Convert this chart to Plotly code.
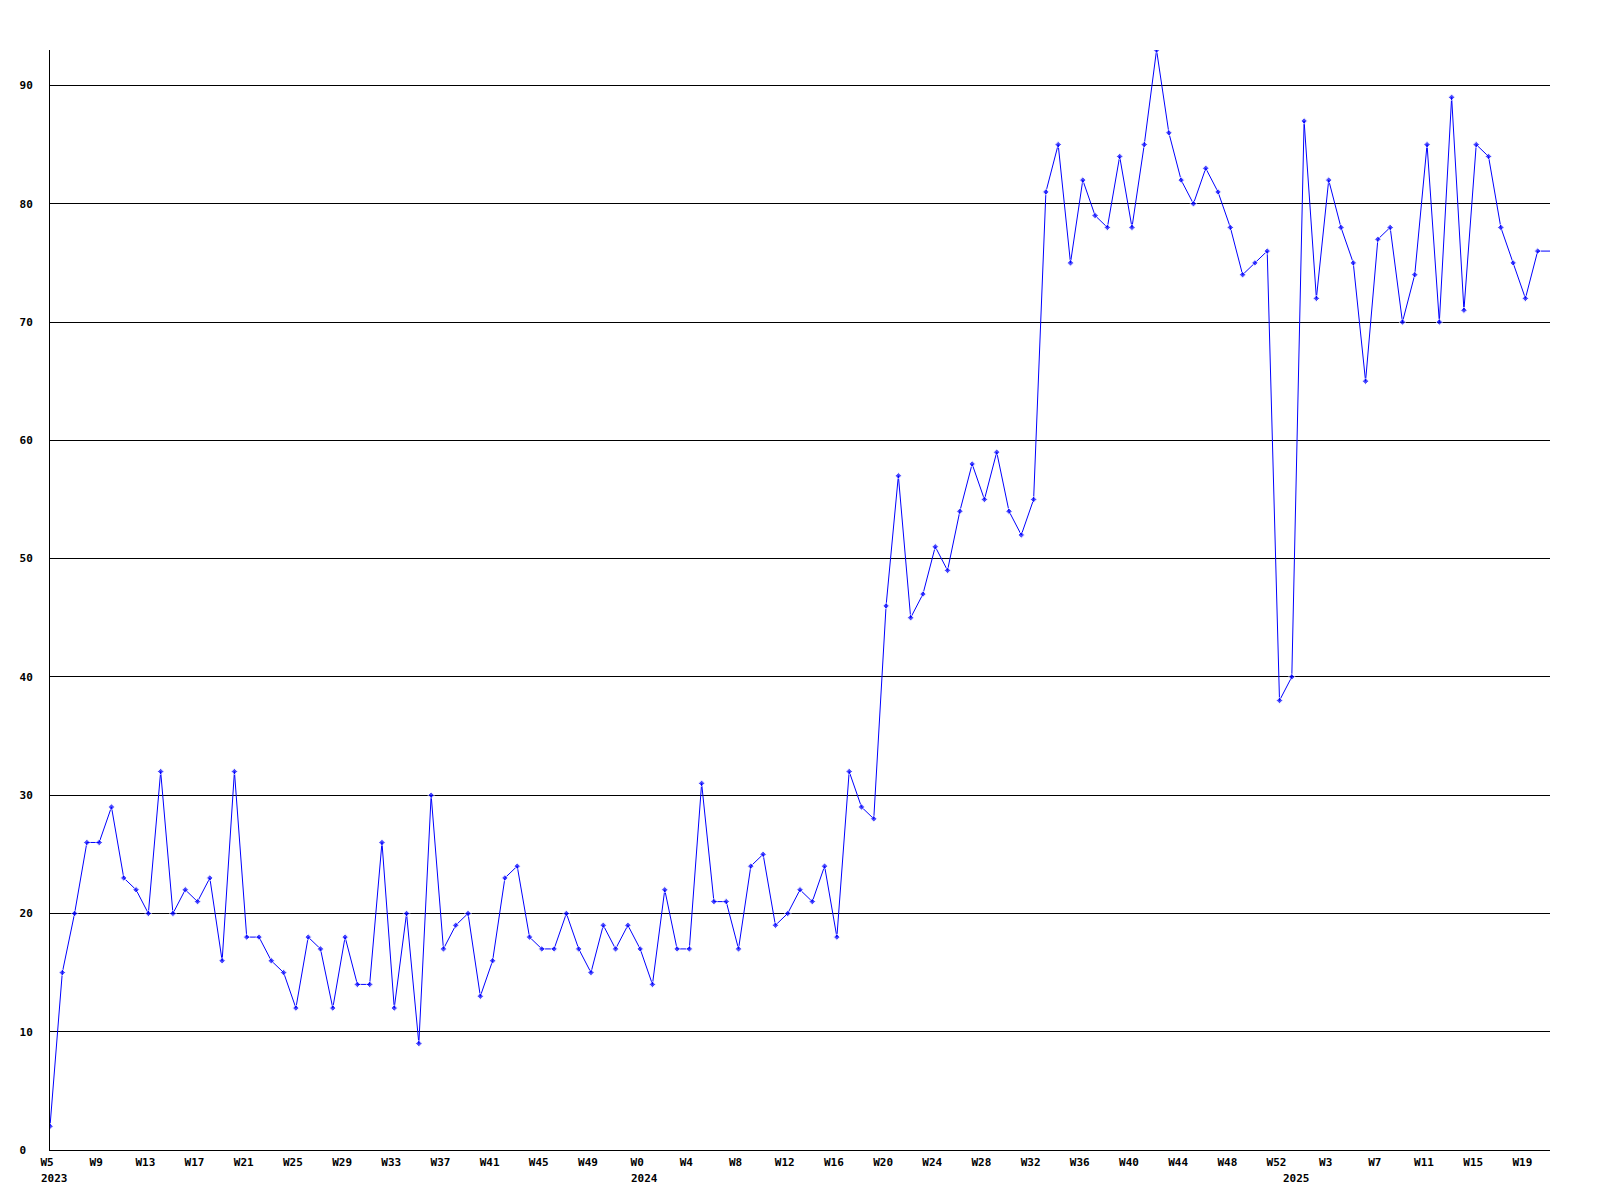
import plotly.graph_objects as go

# ---- data ----
year_2023_weeks = list(range(5, 53))     # W5..W52
year_2024_weeks = list(range(0, 53))     # W0..W52
year_2025_weeks = list(range(0, 22))     # W0..W21

weeks = ([f"2023-W{w}" for w in year_2023_weeks]
         + [f"2024-W{w}" for w in year_2024_weeks]
         + [f"2025-W{w}" for w in year_2025_weeks])

values = [
    2, 15, 20, 26, 26, 29, 23, 22, 20, 32, 20, 22, 21, 23, 16, 32, 18, 18, 16, 15,
    12, 18, 17, 12, 18, 14, 14, 26, 12, 20, 9, 30, 17,
    19, 20, 13, 16, 23, 24, 18, 17, 17, 20, 17, 15, 19, 17, 19, 17, 14, 22, 17, 17,
    31, 21, 21, 17, 24, 25, 19, 20, 22, 21, 24, 18, 32, 29, 28,
    46, 57, 45, 47, 51, 49, 54, 58, 55, 59, 54, 52, 55,
    81, 85, 75, 82, 79, 78, 84, 78, 85, 93, 86, 82, 80, 83, 81, 78, 74, 75, 76,
    38, 40, 87, 72, 82, 78, 75, 65, 77, 78, 70, 74, 85, 70, 89, 71, 85, 84, 78, 75,
    72, 76, 76,
]

tick_labels = ["W5", "W9", "W13", "W17", "W21", "W25", "W29", "W33", "W37", "W41",
               "W45", "W49", "W0", "W4", "W8", "W12", "W16", "W20", "W24", "W28",
               "W32", "W36", "W40", "W44", "W48", "W52", "W3", "W7", "W11", "W15", "W19"]

year_labels = ["2023", "2024", "2025"]
year_starts = ["2023-W5", "2024-W0", "2025-W0"]

y_ticks = [0, 10, 20, 30, 40, 50, 60, 70, 80, 90]

# ---- figure ----
blue = "#0000FF"
n = len(values)
marker_sizes = [5] * (n - 1) + [0]

fig = go.Figure()
fig.add_trace(go.Scatter(
    x=weeks, y=values, mode="lines+markers",
    line=dict(color=blue, width=1),
    marker=dict(symbol="diamond", size=marker_sizes, color=blue),
    hoverinfo="x+y",
))

font_family = "DejaVu Sans Mono"
tick_font = dict(family=font_family, size=11, color="black", weight="bold")

fig.update_layout(
    width=1584, height=1184,
    margin=dict(l=42, r=42, t=42, b=42),
    plot_bgcolor="white", paper_bgcolor="white",
    showlegend=False,
    font=tick_font,
    xaxis=dict(
        type="category",
        categoryorder="array", categoryarray=weeks,
        range=[0, n - 1],
        showgrid=False, zeroline=False,
        showline=True, linecolor="black", linewidth=1,
        ticks="",
        tickmode="array",
        tickvals=weeks[::4], ticktext=tick_labels,
        tickangle=0,
        tickfont=tick_font,
        ticklabelshift=-3,
        ticklabelstandoff=2,
    ),
    yaxis=dict(
        range=[0, 93],
        showgrid=True, gridcolor="black", gridwidth=1,
        zeroline=False,
        showline=True, linecolor="black", linewidth=1,
        ticks="",
        tickmode="array",
        tickvals=y_ticks,
        ticktext=[("0\u00a0" if v == 0 else str(v)) for v in y_ticks],
        tickfont=tick_font,
        ticklabelstandoff=14,
    ),
)

for label, start in zip(year_labels, year_starts):
    fig.add_annotation(
        x=start, y=0, xref="x", yref="paper",
        text=label, showarrow=False,
        xanchor="left", yanchor="top",
        xshift=-11, yshift=-20,
        font=tick_font,
    )

fig.write_html("out.html", config={"displayModeBar": False})
